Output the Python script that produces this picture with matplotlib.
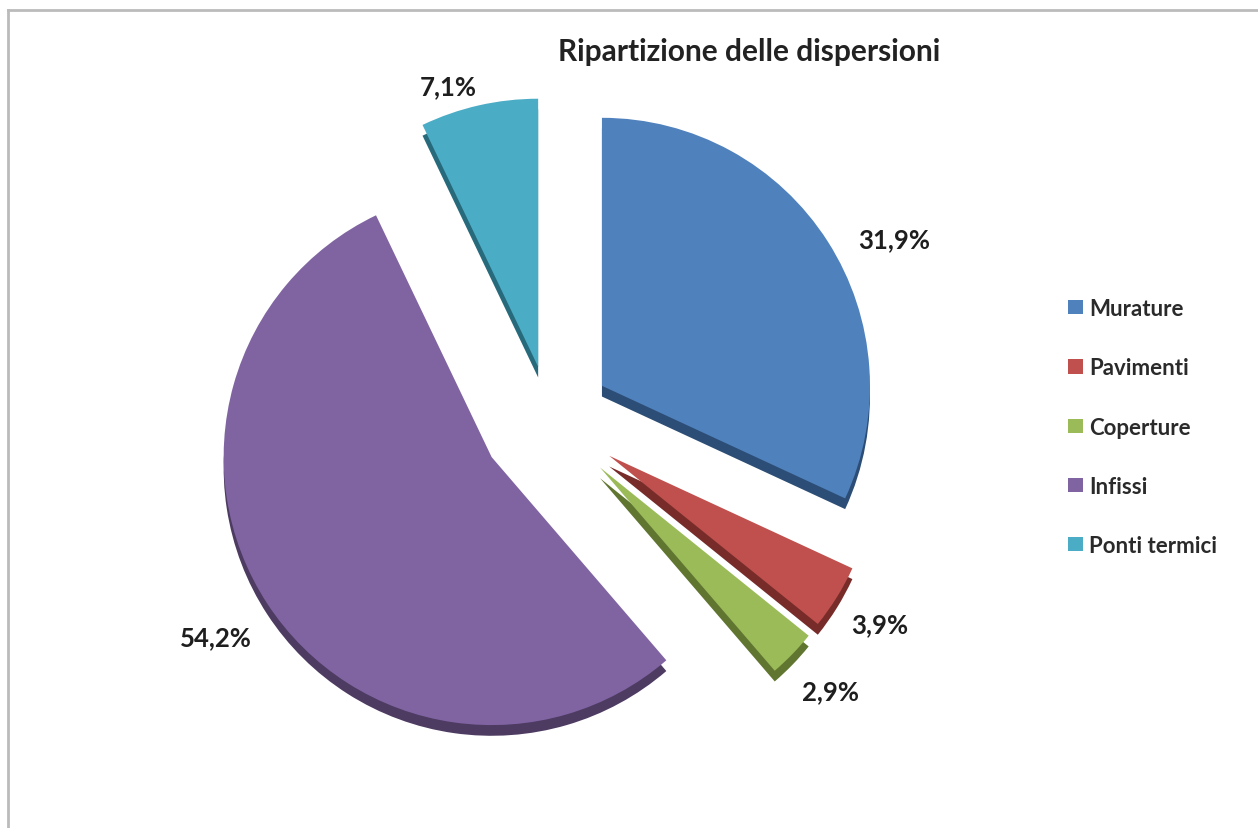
#!/usr/bin/env python3
"""Exploded pie of heat-loss shares with a dark side band for depth."""

import numpy as np
import matplotlib
matplotlib.use("Agg")
import matplotlib.pyplot as plt
from matplotlib.lines import Line2D

categories = ["Murature", "Pavimenti", "Coperture", "Infissi", "Ponti termici"]
shares = [31.9, 3.9, 2.9, 54.2, 7.1]
explode = [0.23, 0.26, 0.26, 0.26, 0.20]

top_colors = ["#4F81BD", "#C0504D", "#9BBB59", "#8064A2", "#4BACC6"]
side_colors = ["#2C4D75", "#772C2A", "#5F7530", "#4D3B62", "#276A7C"]

# where each percentage sits: distance in radii, extra turn in degrees
label_dist = [1.22, 1.19, 1.20, 1.23, 1.10]
label_turn = [-6, 0, 0, 0, 5]

TITLE = "Ripartizione delle dispersioni"
FONT = ["Lato", "DejaVu Sans"]

W, H = 1258, 829
fig = plt.figure(figsize=(W / 100, H / 100), dpi=100)

# square axes, 800 px wide, centre of the pie at (550, 420) px from top-left
ax = fig.add_axes([150 / W, (H - 820) / H, 800 / W, 800 / H])

depth = 0.04  # side band thickness in radius units

# side band: same pie shifted down, drawn underneath
ax.pie(shares, explode=explode, colors=side_colors, startangle=90,
       counterclock=False, center=(0, -depth),
       wedgeprops=dict(linewidth=0, zorder=1))

wedges, _ = ax.pie(shares, explode=explode, colors=top_colors, startangle=90,
                   counterclock=False, wedgeprops=dict(linewidth=0, zorder=2))

for w, v, d, turn in zip(wedges, shares, label_dist, label_turn):
    mid = np.deg2rad((w.theta1 + w.theta2) / 2 + turn)
    cx, cy = w.center
    ax.text(cx + d * w.r * np.cos(mid), cy + d * w.r * np.sin(mid),
            f"{v:.1f}%".replace(".", ","), ha="center", va="center",
            family=FONT, fontweight="bold", fontsize=18.5,
            color="#1E1E1E", zorder=3)

lim = 400 / 268
ax.set_xlim(-lim, lim)
ax.set_ylim(-lim, lim)
ax.set_aspect("equal")
ax.axis("off")

fig.text(749 / W, 1 - 52 / H, TITLE, ha="center", va="center",
         fontsize=21.5, fontweight="bold", family=FONT, color="#222222")

leg = fig.legend(wedges, categories, loc="upper left",
                 bbox_to_anchor=(1057 / W, 1 - 288 / H), frameon=False,
                 prop=dict(family=FONT, size=16, weight="bold"),
                 handlelength=0.65, handleheight=0.6, handletextpad=0.3,
                 labelspacing=1.72, borderpad=0)
for txt in leg.get_texts():
    txt.set_color("#2A2A2A")

# thin grey frame along the top and left edges
fig.add_artist(Line2D([8 / W, 8 / W], [0, 1 - 11 / H], color="#BBBBBB",
                      lw=2, transform=fig.transFigure))
fig.add_artist(Line2D([8 / W, 1], [1 - 11 / H, 1 - 11 / H], color="#BBBBBB",
                      lw=2, transform=fig.transFigure))

fig.savefig("out.png", dpi=100, facecolor="white")
